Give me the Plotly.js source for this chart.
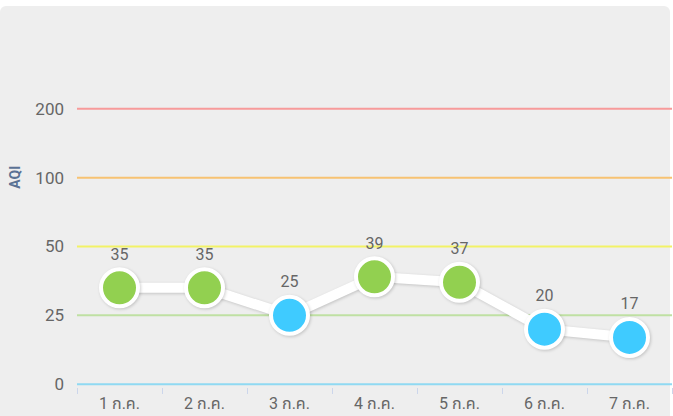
<!DOCTYPE html>
<html>
<head>
<meta charset="utf-8">
<script src="https://cdn.plot.ly/plotly-3.0.1.min.js"></script>
<style>
  html, body { margin: 0; padding: 0; background: #ffffff; }
  #box { position: absolute; left: 0; top: 6px; width: 670px; height: 420px; background: #eeeeee; border-radius: 6px; }
  #chart { position: absolute; left: 0; top: 0; width: 673px; height: 416px; }
</style>
</head>
<body>
<div id="box"></div>
<div id="chart"></div>
<script>
// Data
const categories = ["1 ก.ค.", "2 ก.ค.", "3 ก.ค.", "4 ก.ค.", "5 ก.ค.", "6 ก.ค.", "7 ก.ค."];
const aqiValues = [35, 35, 25, 39, 37, 20, 17];
const tickValues = [0, 25, 50, 100, 200];
const tickLabels = ["0", "25", "50", "100", "200"];
const levelColors = ["#8fd9f2", "#bfe0a3", "#f2f266", "#f7c272", "#f79a9a"];

// Piecewise axis scale: equally spaced ticks
function scaleY(v) {
  for (let i = 0; i < tickValues.length - 1; i++) {
    const a = tickValues[i], b = tickValues[i + 1];
    if (v <= b) return i + (v - a) / (b - a);
  }
  return tickValues.length - 1;
}

const yPos = aqiValues.map(scaleY);
const markerColors = aqiValues.map(v => v <= 25 ? "#3fcbff" : "#92d050");
const pad = 0.04;

const trace = {
  x: categories,
  y: yPos,
  type: "scatter",
  mode: "lines+markers+text",
  text: aqiValues.map(String),
  textposition: "top center",
  textfont: { family: "Roboto, 'Noto Sans', sans-serif", size: 16, color: "#666666" },
  line: { color: "#ffffff", width: 10 },
  marker: { size: 37, color: markerColors, line: { color: "#ffffff", width: 4 } },
  cliponaxis: false,
  hoverinfo: "none"
};

const shapes = tickValues.map((v, i) => ({
  type: "line", xref: "paper", yref: "y",
  x0: 0, x1: 1, y0: scaleY(v), y1: scaleY(v),
  line: { color: levelColors[i], width: 2 },
  layer: "below"
}));

const layout = {
  width: 673, height: 416,
  margin: { l: 77, r: 1, t: 106, b: 29 },
  paper_bgcolor: "rgba(0,0,0,0)",
  plot_bgcolor: "rgba(0,0,0,0)",
  showlegend: false,
  font: { family: "Roboto, 'Noto Sans', 'Noto Sans Thai', sans-serif", color: "#666666", size: 16 },
  xaxis: {
    type: "category",
    range: [-0.5, categories.length - 0.5],
    automargin: false,
    showgrid: false, zeroline: false, showline: false,
    tickson: "boundaries",
    ticks: "outside", ticklen: 6, tickcolor: "#ccd6eb", tickwidth: 1,
    ticklabelstandoff: 5,
    tickfont: { size: 16, color: "#666666" },
    fixedrange: true
  },
  yaxis: {
    range: [-pad, tickValues.length - 1 + pad],
    automargin: false,
    tickvals: tickValues.map(scaleY),
    ticktext: tickLabels,
    showgrid: false, zeroline: false, showline: false,
    ticks: "", ticklabelstandoff: 12,
    tickfont: { size: 17, color: "#666666" },
    fixedrange: true
  },
  shapes: shapes,
  annotations: [{
    text: "<b>AQI</b>", xref: "paper", yref: "paper",
    x: -0.104, y: (scaleY(100) + pad) / (tickValues.length - 1 + 2 * pad),
    xanchor: "center", yanchor: "middle",
    textangle: -90, showarrow: false,
    font: { size: 14, color: "#5b7294" }
  }]
};

Plotly.newPlot("chart", [trace], layout, { displayModeBar: false, staticPlot: true }).then(() => {
  document.querySelectorAll("#chart .scatterlayer .js-line, #chart .scatterlayer path.point").forEach(el => {
    el.style.filter = "drop-shadow(1px 1px 1.5px rgba(0,0,0,0.18))";
  });
});
</script>
</body>
</html>
